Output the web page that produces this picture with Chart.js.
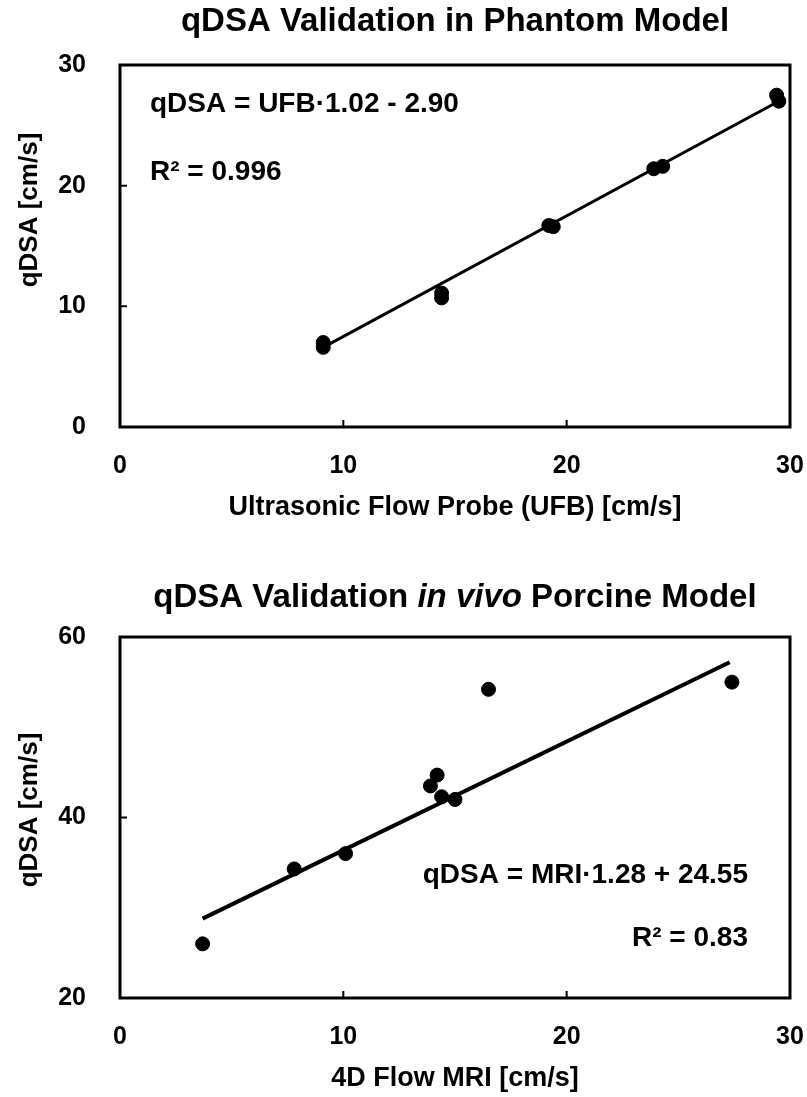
<!DOCTYPE html>
<html lang="en">
<head>
  <meta charset="UTF-8" />
  <title>qDSA Validation</title>
  <script src="https://cdn.jsdelivr.net/npm/chart.js"></script>
  <style>
    * { margin: 0; padding: 0; box-sizing: border-box; }
    body { background: #ffffff; width: 807px; height: 1097px; overflow: hidden; }
    .box { position: relative; width: 807px; }
    #top { height: 560px; }
    #bottom { height: 537px; }
  </style>
</head>
<body>
  <div class="box" id="top"><canvas id="phantomChart"></canvas></div>
  <div class="box" id="bottom"><canvas id="porcineChart"></canvas></div>

  <script>
    // phantom model: ultrasonic flow probe vs qDSA
    const ufbX = [9.1, 9.1, 14.4, 14.4, 19.2, 19.4, 23.9, 24.3, 29.4, 29.5];
    const ufbQdsa = [7.0, 6.6, 11.1, 10.7, 16.7, 16.6, 21.4, 21.6, 27.5, 27.0];
    const ufbFitX = [9.1, 29.6];
    const ufbFitY = [6.6, 27.1];

    // porcine model: 4D flow MRI vs qDSA
    const mriX = [3.7, 7.8, 10.1, 14.2, 13.9, 14.4, 15.0, 16.5, 27.4];
    const mriQdsa = [26.0, 34.3, 36.0, 44.7, 43.5, 42.3, 42.0, 54.2, 55.0];
    const mriFitX = [3.7, 27.3];
    const mriFitY = [28.8, 57.2];

    const phantomTicksX = [0, 10, 20, 30];
    const phantomTicksY = [0, 10, 20, 30];
    const porcineTicksX = [0, 10, 20, 30];
    const porcineTicksY = [20, 40, 60];

    const FONT = '"Liberation Sans", Arial, sans-serif';

    const toPoints = (xs, ys) => xs.map((x, i) => ({ x: x, y: ys[i] }));

    // frame round the plot + small inward tick marks
    const framePlugin = {
      id: 'frame',
      afterDraw(chart) {
        const { ctx, chartArea: a, scales } = chart;
        ctx.save();
        ctx.strokeStyle = '#000';
        ctx.lineWidth = 3;
        ctx.strokeRect(a.left, a.top, a.right - a.left, a.bottom - a.top);
        ctx.lineWidth = 2;
        ctx.beginPath();
        scales.x.ticks.forEach(t => {
          const px = scales.x.getPixelForValue(t.value);
          ctx.moveTo(px, a.bottom);
          ctx.lineTo(px, a.bottom - 7);
        });
        scales.y.ticks.forEach(t => {
          const py = scales.y.getPixelForValue(t.value);
          ctx.moveTo(a.left, py);
          ctx.lineTo(a.left + 7, py);
        });
        ctx.stroke();
        ctx.restore();
      }
    };

    // title with mixed italic parts, y axis title, equation notes
    const notesPlugin = {
      id: 'notes',
      afterDraw(chart, args, opts) {
        const { ctx, chartArea: a } = chart;
        ctx.save();
        ctx.fillStyle = '#000';
        ctx.textBaseline = 'middle';

        const parts = opts.title;
        const font = it => (it ? 'italic ' : '') + 'bold 33px ' + FONT;
        let total = 0;
        parts.forEach(p => { ctx.font = font(p[1]); total += ctx.measureText(p[0]).width; });
        let x = (a.left + a.right) / 2 - total / 2;
        ctx.textAlign = 'left';
        parts.forEach(p => {
          ctx.font = font(p[1]);
          ctx.fillText(p[0], x, opts.titleY);
          x += ctx.measureText(p[0]).width;
        });

        ctx.save();
        ctx.translate(30, opts.yTitleY);
        ctx.rotate(-Math.PI / 2);
        ctx.textAlign = 'center';
        ctx.font = 'bold 26px ' + FONT;
        ctx.fillText('qDSA [cm/s]', 0, 0);
        ctx.restore();

        ctx.font = 'bold 28px ' + FONT;
        opts.lines.forEach(l => {
          ctx.textAlign = l.align;
          const lx = l.align === 'left' ? a.left + l.dx : a.right - l.dx;
          ctx.fillText(l.text, lx, a.top + l.dy);
        });
        ctx.restore();
      }
    };

    function makeChart(id, cfg) {
      return new Chart(document.getElementById(id), {
        type: 'scatter',
        data: {
          datasets: [
            {
              data: toPoints(cfg.xs, cfg.ys),
              backgroundColor: '#000',
              borderColor: '#000',
              pointRadius: 7,
              pointHoverRadius: 7
            },
            {
              data: toPoints(cfg.fitX, cfg.fitY),
              showLine: true,
              borderColor: '#000',
              borderWidth: cfg.lineWidth,
              pointRadius: 0,
              fill: false
            }
          ]
        },
        options: {
          responsive: true,
          maintainAspectRatio: false,
          animation: false,
          layout: { padding: { top: cfg.padTop, right: 17, bottom: 0, left: 0 } },
          plugins: {
            legend: { display: false },
            tooltip: { enabled: false },
            notes: { title: cfg.title, titleY: cfg.titleY, yTitleY: cfg.yTitleY, lines: cfg.lines }
          },
          scales: {
            x: {
              type: 'linear',
              min: cfg.xTicks[0],
              max: cfg.xTicks[cfg.xTicks.length - 1],
              afterBuildTicks: s => { s.ticks = cfg.xTicks.map(v => ({ value: v })); },
              afterFit: s => { s.height = cfg.xHeight; s.paddingLeft = 0; s.paddingRight = 0; },
              grid: { display: false, drawTicks: false },
              border: { display: false },
              ticks: { color: '#000', padding: 24, font: { family: FONT, size: 25, weight: 'bold' }, maxRotation: 0 },
              title: {
                display: true,
                text: cfg.xTitle,
                color: '#000',
                padding: { top: 0, bottom: cfg.xTitlePad },
                font: { family: FONT, size: 27, weight: 'bold' }
              }
            },
            y: {
              type: 'linear',
              min: cfg.yTicks[0],
              max: cfg.yTicks[cfg.yTicks.length - 1],
              afterBuildTicks: s => { s.ticks = cfg.yTicks.map(v => ({ value: v })); },
              afterFit: s => { s.width = 120; s.paddingTop = 0; s.paddingBottom = 0; },
              grid: { display: false, drawTicks: false },
              border: { display: false },
              ticks: { color: '#000', padding: 34, font: { family: FONT, size: 25, weight: 'bold' } }
            }
          }
        },
        plugins: [framePlugin, notesPlugin]
      });
    }

    makeChart('phantomChart', {
      xs: ufbX, ys: ufbQdsa, fitX: ufbFitX, fitY: ufbFitY,
      xTicks: phantomTicksX, yTicks: phantomTicksY,
      lineWidth: 3, padTop: 65, titleY: 22, yTitleY: 210, xHeight: 133, xTitlePad: 36,
      xTitle: 'Ultrasonic Flow Probe (UFB) [cm/s]',
      title: [['qDSA Validation in Phantom Model', false]],
      lines: [
        { text: 'qDSA = UFB\u00b71.02 - 2.90', align: 'left', dx: 30, dy: 39 },
        { text: 'R\u00b2 = 0.996', align: 'left', dx: 30, dy: 107 }
      ]
    });

    makeChart('porcineChart', {
      xs: mriX, ys: mriQdsa, fitX: mriFitX, fitY: mriFitY,
      xTicks: porcineTicksX, yTicks: porcineTicksY,
      lineWidth: 4, padTop: 77, titleY: 38, yTitleY: 250, xHeight: 99, xTitlePad: 2,
      xTitle: '4D Flow MRI [cm/s]',
      title: [['qDSA Validation ', false], ['in vivo', true], [' Porcine Model', false]],
      lines: [
        { text: 'qDSA = MRI\u00b71.28 + 24.55', align: 'right', dx: 42, dy: 238 },
        { text: 'R\u00b2 = 0.83', align: 'right', dx: 42, dy: 301 }
      ]
    });
  </script>
</body>
</html>
